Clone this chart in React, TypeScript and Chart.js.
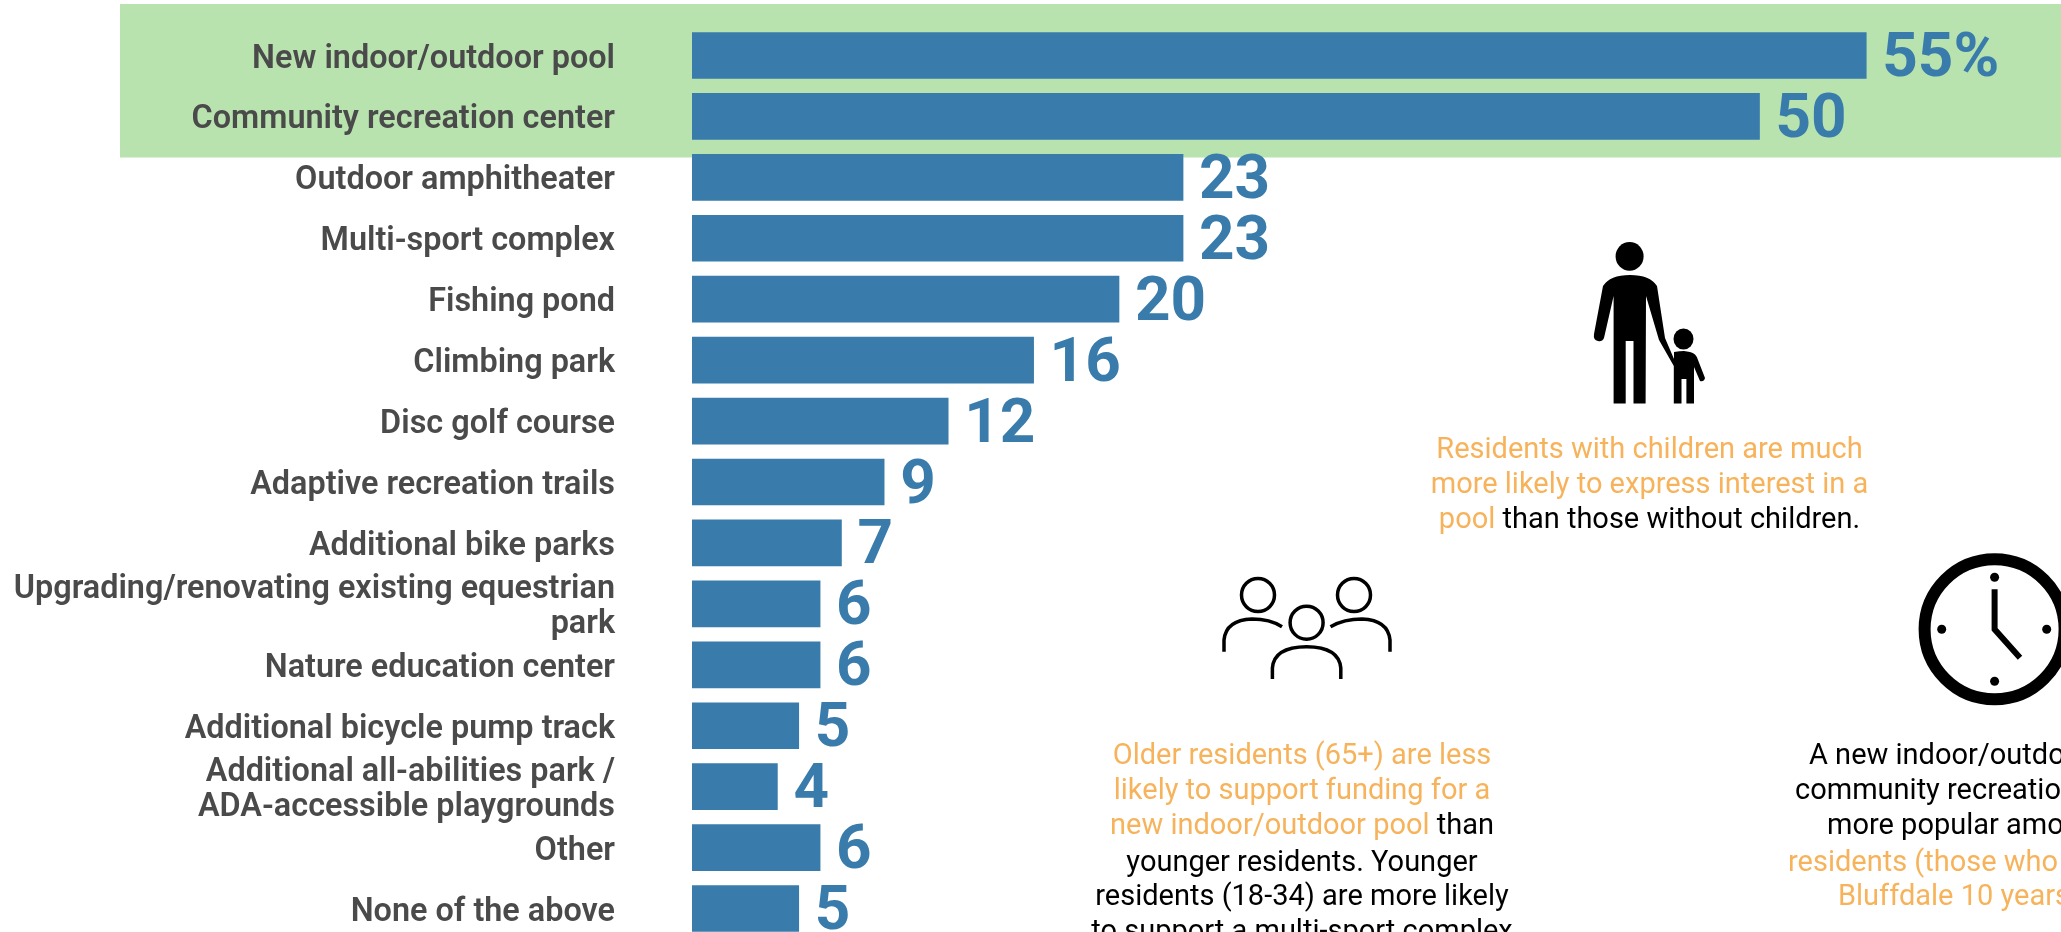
import React, { useEffect, useRef } from "react";
import { Chart, registerables } from "chart.js";

Chart.register(...registerables);

const categories: (string | string[])[] = [
  "New indoor/outdoor pool",
  "Community recreation center",
  "Outdoor amphitheater",
  "Multi-sport complex",
  "Fishing pond",
  "Climbing park",
  "Disc golf course",
  "Adaptive recreation trails",
  "Additional bike parks",
  ["Upgrading/renovating existing equestrian", "park"],
  "Nature education center",
  "Additional bicycle pump track",
  ["Additional all-abilities park /", "ADA-accessible playgrounds"],
  "Other",
  "None of the above",
];
const values = [55, 50, 23, 23, 20, 16, 12, 9, 7, 6, 6, 5, 4, 6, 5];
const valueLabels = ["55%", "50", "23", "23", "20", "16", "12", "9", "7", "6", "6", "5", "4", "6", "5"];

type Run = [string, boolean];
const noteChildren: Run[][] = [
  [["Residents with children are much", true]],
  [["more likely to express interest in a", true]],
  [["pool", true], [" than those without children.", false]],
];
const noteOlder: Run[][] = [
  [["Older residents (65+) are less", true]],
  [["likely to support funding for a", true]],
  [["new indoor/outdoor pool", true], [" than", false]],
  [["younger residents. Younger", false]],
  [["residents (18-34) are more likely", false]],
  [["to support a multi-sport complex", false]],
];
const noteNew: Run[][] = [
  [["A new indoor/outdoor", false]],
  [["community recreation", false]],
  [["more popular among", false]],
  [["residents (those who", true]],
  [["Bluffdale 10 years", true]],
];

const BLUE = "#397BAB";
const GREEN = "#B8E3AF";
const ORANGE = "#F7B35B";
const NOTE_FONT = "400 29px Roboto";

function drawRuns(ctx: CanvasRenderingContext2D, lines: Run[][], ys: number[], place: (w: number, i: number) => number) {
  ctx.font = NOTE_FONT;
  ctx.textAlign = "left";
  ctx.textBaseline = "middle";
  lines.forEach((runs, i) => {
    const w = runs.reduce((s, r) => s + ctx.measureText(r[0]).width, 0);
    let x = place(w, i);
    runs.forEach(([t, hi]) => {
      ctx.fillStyle = hi ? ORANGE : "#000";
      ctx.fillText(t, x, ys[i]);
      x += ctx.measureText(t).width;
    });
  });
}

function drawIcons(ctx: CanvasRenderingContext2D) {
  ctx.fillStyle = "#000";
  ctx.strokeStyle = "#000";
  // adult and child
  ctx.beginPath();
  ctx.ellipse(1629.6, 256.4, 14, 14.3, 0, 0, Math.PI * 2);
  ctx.fill();
  ctx.fill(new Path2D(
    "M1603 286 Q1610 275 1630 275 Q1650 275 1657 286 L1665 338 L1674 359 L1674 352 Q1680 351 1684 351 L1690 352 Q1696 353 1698 360 L1705 378 Q1704 382 1700 381 L1694 367 L1694 403.6 L1686.4 403.6 L1686.4 379 L1681.5 379 L1681.5 403.6 L1673.8 403.6 L1673.8 366 L1659 340 L1646 296 L1645.6 403.6 L1633.5 403.6 L1633.5 341 L1625.7 341 L1625.7 403.6 L1613.6 403.6 L1613.6 296 L1604 338 Q1602 342 1598 341 Q1593 340 1594 334 Z"
  ));
  ctx.beginPath();
  ctx.ellipse(1683.5, 339, 10, 10.5, 0, 0, Math.PI * 2);
  ctx.fill();
  // group of three
  ctx.lineWidth = 3.5;
  [[1258, 595], [1354, 595], [1306.6, 622.7]].forEach(([x, y]) => {
    ctx.beginPath();
    ctx.ellipse(x, y, 16.5, 16.5, 0, 0, Math.PI * 2);
    ctx.stroke();
  });
  const shoulders = [
    "M1224 651.7 L1224 640 Q1226 620 1252 619 Q1270 619 1282 626.7",
    "M1390 651.7 L1390 640 Q1388 620 1362 619 Q1344 619 1330.5 626.7",
    "M1272.4 679 L1272.4 668 Q1274 647 1306.6 646.7 Q1339 647 1340.8 668 L1340.8 679",
  ];
  shoulders.forEach((d) => ctx.stroke(new Path2D(d)));
  // clock
  ctx.lineWidth = 12;
  ctx.beginPath();
  ctx.arc(1994.6, 629.3, 70, 0, Math.PI * 2);
  ctx.stroke();
  [[1994.6, 577.3], [1994.6, 681.3], [1941.7, 629.3], [2046.7, 629.3]].forEach(([x, y]) => {
    ctx.beginPath();
    ctx.arc(x, y, 4.5, 0, Math.PI * 2);
    ctx.fill();
  });
  ctx.lineWidth = 6;
  ctx.beginPath();
  ctx.moveTo(1994.6, 589.3);
  ctx.lineTo(1994.6, 629.3);
  ctx.lineTo(2020, 657.7);
  ctx.stroke();
}

const backdrop = {
  id: "backdrop",
  beforeDraw(chart: Chart) {
    const ctx = chart.ctx;
    ctx.save();
    ctx.fillStyle = "#fff";
    ctx.fillRect(0, 0, chart.width, chart.height);
    ctx.fillStyle = GREEN;
    ctx.fillRect(120, 4, chart.width - 120, 153.5);
    ctx.restore();
  },
};

const overlays = {
  id: "overlays",
  afterDatasetsDraw(chart: Chart) {
    const ctx = chart.ctx;
    ctx.save();
    const meta = chart.getDatasetMeta(0);
    ctx.font = "700 62px Roboto";
    ctx.fillStyle = BLUE;
    ctx.textAlign = "left";
    ctx.textBaseline = "middle";
    meta.data.forEach((bar: any, i: number) => {
      ctx.fillText(valueLabels[i], bar.x + 16, bar.y + 5);
    });
    drawRuns(ctx, noteChildren, [451, 486, 521], (w) => 1649.5 - w / 2);
    drawRuns(ctx, noteOlder, [757, 792, 827, 864, 898, 933], (w) => 1302 - w / 2);
    const starts = [1809, 1795, 1827, 1788, 1838];
    drawRuns(ctx, noteNew, [757, 792, 827, 864, 898], (_w, i) => starts[i]);
    drawIcons(ctx);
    ctx.restore();
  },
};

export default function App() {
  const ref = useRef<HTMLCanvasElement>(null);
  useEffect(() => {
    const chart = new Chart(ref.current!, {
      type: "bar",
      data: {
        labels: categories as any,
        datasets: [{ data: values, backgroundColor: BLUE, barThickness: 46 }],
      },
      options: {
        indexAxis: "y",
        animation: false,
        responsive: false,
        layout: { padding: { left: 0, right: 2.6, top: 25, bottom: 21 } },
        plugins: { legend: { display: false }, tooltip: { enabled: false } },
        scales: {
          x: { display: false, min: 0, max: 64 },
          y: {
            afterFit(scale: any) {
              scale.width = 692;
            },
            grid: { display: true, drawOnChartArea: false, drawTicks: true, tickLength: 77, color: "transparent" },
            border: { display: false },
            ticks: {
              autoSkip: false,
              padding: 0,
              labelOffset: 4,
              color: "#4A4A4A",
              font: { family: "Roboto", size: 32.4, weight: 600, lineHeight: 1.08 },
            },
          },
        },
      },
      plugins: [backdrop, overlays],
    });
    return () => chart.destroy();
  }, []);
  return (
    <div style={{ position: "fixed", left: 0, top: 0, width: 2061, height: 932, overflow: "hidden", background: "#fff" }}>
      <canvas ref={ref} width={2061} height={960} style={{ display: "block" }} />
    </div>
  );
}
